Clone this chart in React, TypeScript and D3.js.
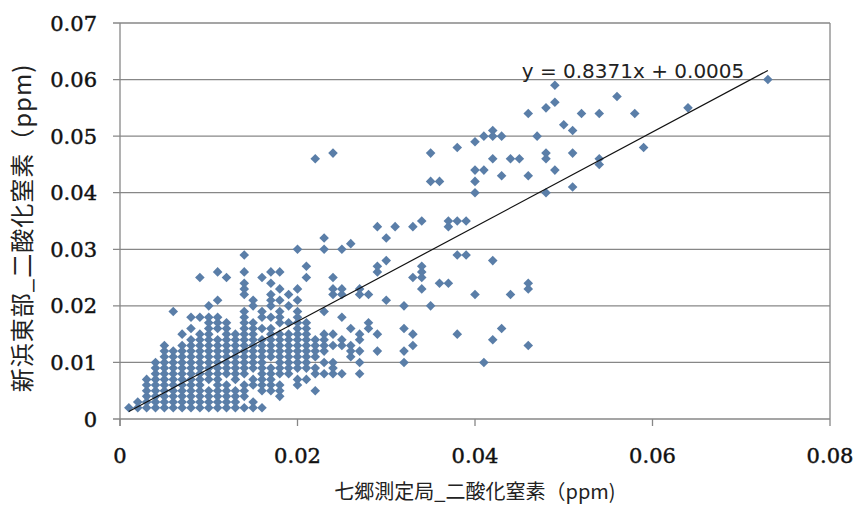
import React from "react";
import * as d3 from "d3";

const xTickValues = [0, 0.02, 0.04, 0.06, 0.08];
const xTickLabels = ["0", "0.02", "0.04", "0.06", "0.08"];
const yTickValues = [0, 0.01, 0.02, 0.03, 0.04, 0.05, 0.06, 0.07];
const yTickLabels = ["0", "0.01", "0.02", "0.03", "0.04", "0.05", "0.06", "0.07"];

const xTitle = "七郷測定局_二酸化窒素（ppm)";
const yTitle = "新浜東部_二酸化窒素（ppm)";
const trendLabel = "y = 0.8371x + 0.0005";
const trendSlope = 0.8371;
const trendIntercept = 0.0005;

// Observations grouped by x value (七郷, ppm); each entry lists the y values (新浜東部, ppm)
const columnX = [
  0.001, 0.002, 0.003, 0.004, 0.005, 0.006, 0.007, 0.008, 0.009, 0.01,
  0.011, 0.012, 0.013, 0.014, 0.015, 0.016, 0.017, 0.018, 0.019, 0.02,
  0.021, 0.022, 0.023, 0.024, 0.025, 0.026, 0.027, 0.028, 0.029, 0.03,
  0.031, 0.032, 0.033, 0.034, 0.035, 0.036, 0.037, 0.038, 0.039, 0.04,
  0.041, 0.042, 0.043, 0.044, 0.045, 0.046, 0.047, 0.048, 0.049, 0.05,
  0.051, 0.052, 0.054, 0.056, 0.058, 0.059, 0.064, 0.073,
];
const columnY = [
  [0.002],
  [0.002, 0.003],
  [0.002, 0.003, 0.004, 0.005, 0.006, 0.007],
  [0.002, 0.003, 0.004, 0.005, 0.006, 0.007, 0.008, 0.009, 0.01],
  [0.002, 0.003, 0.004, 0.005, 0.006, 0.007, 0.008, 0.009, 0.01, 0.011, 0.012, 0.013],
  [0.002, 0.003, 0.004, 0.005, 0.006, 0.007, 0.008, 0.009, 0.01, 0.011, 0.012, 0.019],
  [0.002, 0.003, 0.004, 0.005, 0.006, 0.007, 0.008, 0.009, 0.01, 0.011, 0.012, 0.013, 0.015],
  [0.002, 0.003, 0.004, 0.005, 0.006, 0.007, 0.008, 0.009, 0.01, 0.011, 0.012, 0.013, 0.014, 0.016, 0.018],
  [0.002, 0.003, 0.004, 0.005, 0.006, 0.007, 0.008, 0.009, 0.01, 0.011, 0.012, 0.013, 0.014, 0.015, 0.018, 0.025],
  [0.002, 0.003, 0.004, 0.005, 0.007, 0.008, 0.009, 0.01, 0.011, 0.012, 0.013, 0.014, 0.015, 0.016, 0.017, 0.018, 0.02],
  [0.002, 0.003, 0.004, 0.005, 0.006, 0.007, 0.008, 0.009, 0.01, 0.011, 0.012, 0.013, 0.014, 0.016, 0.017, 0.018, 0.021, 0.026],
  [0.002, 0.003, 0.004, 0.005, 0.006, 0.008, 0.009, 0.01, 0.011, 0.012, 0.013, 0.014, 0.015, 0.016, 0.017, 0.025],
  [0.002, 0.003, 0.004, 0.005, 0.007, 0.008, 0.009, 0.01, 0.011, 0.012, 0.013, 0.014, 0.015],
  [0.002, 0.004, 0.005, 0.006, 0.008, 0.009, 0.01, 0.011, 0.012, 0.013, 0.014, 0.015, 0.016, 0.017, 0.018, 0.019, 0.022, 0.023, 0.024, 0.026, 0.029],
  [0.002, 0.003, 0.006, 0.007, 0.009, 0.01, 0.011, 0.012, 0.013, 0.014, 0.015, 0.016, 0.017, 0.02, 0.021],
  [0.002, 0.005, 0.006, 0.007, 0.008, 0.009, 0.01, 0.011, 0.012, 0.013, 0.014, 0.016, 0.018, 0.019, 0.025],
  [0.005, 0.006, 0.007, 0.008, 0.009, 0.011, 0.012, 0.013, 0.014, 0.015, 0.016, 0.018, 0.02, 0.021, 0.022, 0.024, 0.026],
  [0.004, 0.005, 0.006, 0.008, 0.009, 0.01, 0.011, 0.012, 0.013, 0.014, 0.015, 0.017, 0.018, 0.019, 0.021, 0.023, 0.026],
  [0.008, 0.009, 0.01, 0.011, 0.012, 0.013, 0.014, 0.015, 0.017, 0.02, 0.022],
  [0.006, 0.007, 0.009, 0.01, 0.011, 0.012, 0.013, 0.014, 0.015, 0.016, 0.017, 0.018, 0.019, 0.021, 0.023, 0.03],
  [0.007, 0.009, 0.01, 0.011, 0.012, 0.013, 0.014, 0.015, 0.016, 0.017, 0.025, 0.027],
  [0.005, 0.008, 0.009, 0.011, 0.012, 0.013, 0.014, 0.046],
  [0.008, 0.01, 0.012, 0.013, 0.014, 0.015, 0.019, 0.03, 0.032],
  [0.008, 0.009, 0.01, 0.013, 0.015, 0.022, 0.023, 0.025, 0.047],
  [0.008, 0.013, 0.014, 0.018, 0.022, 0.023, 0.03],
  [0.011, 0.012, 0.013, 0.016, 0.031],
  [0.008, 0.01, 0.012, 0.014, 0.015, 0.022, 0.023],
  [0.016, 0.017, 0.022],
  [0.012, 0.015, 0.026, 0.027, 0.034],
  [0.021, 0.028, 0.032],
  [0.034],
  [0.01, 0.012, 0.016, 0.02],
  [0.013, 0.015, 0.025, 0.034],
  [0.023, 0.025, 0.026, 0.027, 0.035],
  [0.02, 0.042, 0.047],
  [0.024, 0.042],
  [0.024, 0.034, 0.035],
  [0.015, 0.029, 0.035, 0.048],
  [0.029, 0.035],
  [0.022, 0.04, 0.042, 0.044, 0.049],
  [0.01, 0.044, 0.05],
  [0.014, 0.028, 0.046, 0.05, 0.051],
  [0.016, 0.043, 0.05],
  [0.022, 0.046],
  [0.046],
  [0.013, 0.023, 0.024, 0.043, 0.054],
  [0.05],
  [0.04, 0.046, 0.047, 0.055],
  [0.044, 0.056, 0.059],
  [0.052],
  [0.041, 0.047, 0.051],
  [0.054],
  [0.045, 0.046, 0.054],
  [0.057],
  [0.054],
  [0.048],
  [0.055],
  [0.06],
];

const W = 859;
const H = 509;
const plot = { left: 120, right: 830, top: 23, bottom: 419 };
const gridColor = "#878787";
const markerColor = "#5a7ea8";

export default function App() {
  const x = d3.scaleLinear().domain([0, 0.08]).range([plot.left, plot.right]);
  const y = d3.scaleLinear().domain([0, 0.07]).range([plot.bottom, plot.top]);

  const points: [number, number][] = [];
  columnX.forEach((xv, i) => {
    columnY[i].forEach((yv) => points.push([xv, yv]));
  });

  const marker = d3.symbol(d3.symbolSquare, 46)() as string;
  const xMin = d3.min(columnX) as number;
  const xMax = d3.max(columnX) as number;
  const trend = d3.line<number>()
    .x((d) => x(d))
    .y((d) => y(trendSlope * d + trendIntercept))([xMin, xMax]) as string;

  const tickFont = "'DejaVu Serif', serif";
  const cjkFont = "'Noto Sans CJK JP', sans-serif";

  return (
    <svg width={W} height={H} style={{ position: "absolute", left: 0, top: 0, background: "#fff" }}>
      <rect x={0} y={0} width={W} height={H} fill="#fff" />
      {yTickValues.map((v) => (
        <line key={"g" + v} x1={plot.left - 7} x2={plot.right} y1={y(v)} y2={y(v)} stroke={gridColor} strokeWidth={1.3} />
      ))}
      <line x1={plot.left} x2={plot.left} y1={plot.top} y2={plot.bottom + 7} stroke={gridColor} strokeWidth={1.3} />
      <line x1={plot.right} x2={plot.right} y1={plot.top} y2={plot.bottom} stroke={gridColor} strokeWidth={1.3} />
      {xTickValues.map((v) => (
        <line key={"t" + v} x1={x(v)} x2={x(v)} y1={plot.bottom} y2={plot.bottom + 7} stroke={gridColor} strokeWidth={1.3} />
      ))}
      {points.map((p, i) => (
        <path key={i} d={marker} transform={`translate(${x(p[0])},${y(p[1])}) rotate(45)`} fill={markerColor} />
      ))}
      <path d={trend} stroke="#111" strokeWidth={1.2} fill="none" />
      <text x={633} y={78} fontFamily="'DejaVu Sans', sans-serif" fontSize={20} fill="#222" textAnchor="middle">
        {trendLabel}
      </text>
      {yTickValues.map((v, i) => (
        <text key={"yl" + v} x={97} y={y(v)} dy="0.36em" textAnchor="end" fontFamily={tickFont} fontSize={21} fill="#111" stroke="#111" strokeWidth={0.45}>
          {yTickLabels[i]}
        </text>
      ))}
      {xTickValues.map((v, i) => (
        <text key={"xl" + v} x={x(v)} y={463} textAnchor="middle" fontFamily={tickFont} fontSize={21} fill="#111" stroke="#111" strokeWidth={0.45}>
          {xTickLabels[i]}
        </text>
      ))}
      <text x={475} y={499} textAnchor="middle" fontFamily={cjkFont} fontSize={20} fill="#222">
        {xTitle}
      </text>
      <text transform={`translate(31,228) rotate(-90)`} textAnchor="middle" fontFamily={cjkFont} fontSize={24} letterSpacing={1} fill="#222">
        {yTitle}
      </text>
    </svg>
  );
}
